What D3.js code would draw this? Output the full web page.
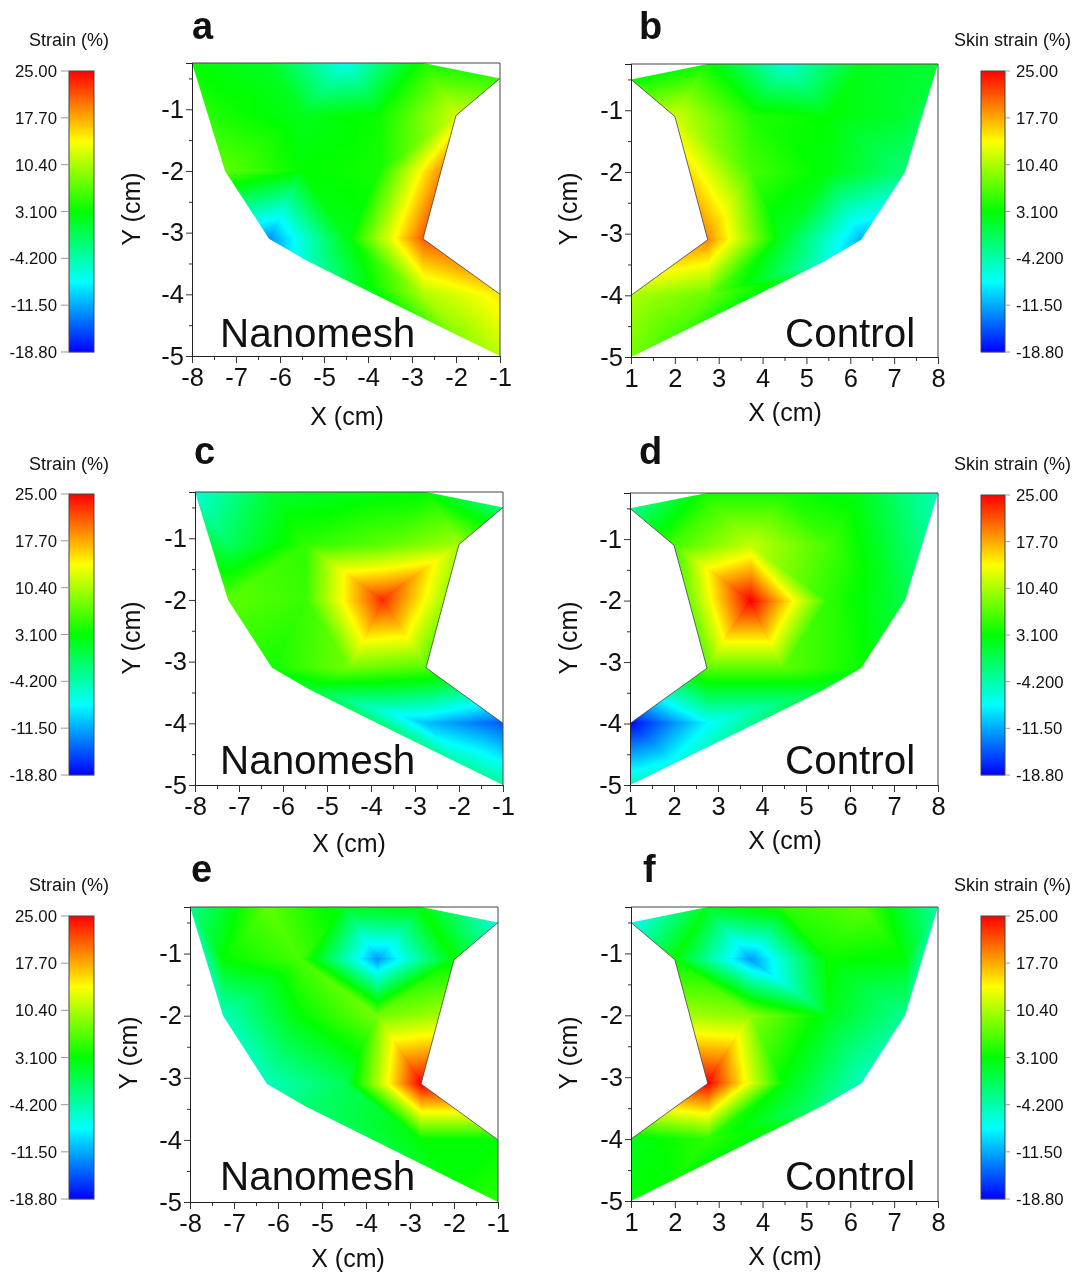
<!DOCTYPE html>
<html><head><meta charset="utf-8">
<script src="https://cdn.jsdelivr.net/npm/d3@7"></script>
<style>
html,body{margin:0;padding:0;background:#fff}
#wrap{position:relative;width:1078px;height:1272px;overflow:hidden}
canvas{position:absolute;left:0;top:0;filter:blur(0.6px)}
svg{position:absolute;left:0;top:0}
text{font-family:"Liberation Sans",Arial,sans-serif;fill:#111}
</style></head><body><div id="wrap"><canvas id="cv" width="1078" height="1272"></canvas><svg id="sv" width="1078" height="1272"></svg></div>
<script>
// measurement nodes, |X| in cm (the Nanomesh panels mirror X)
const nodeX = [2.75,4.5,6.25,8, 1, 2,3.75,5.5,7.25, 3.75,5.5,7.25, 2.75,4.5,6.25, 1,2.75,5.4, 1,2,4.5, 2.34];
const nodeY = [-.25,-.25,-.25,-.25, -.5, -1.1,-1.1,-1.1,-1.1, -2,-2,-2, -3.1,-3.1,-3.1, -4,-4,-3.45, -5,-4.65,-3.77, -2];
// strain (%) at each node
const valuesA = [4,-7,1.5,3,5,12,3.5,2,4,4,3,7,21,2,-12.5,15,10.5,-5.5,11,9,0,19];
const valuesB = [3.5,-6,2,1,3,12,4.5,3,1,6,2.5,-2,19,1,-11,10.5,7.5,-6,8,6,1.5,15.5];
const valuesC = [3,2,1,-6,-2,10,7,5,-1,23,5.5,7,6.6,8,4,-15,-10.5,1,-3.5,-4,-1,10];
const valuesD = [4,4,2,-5,-3,6,11.5,6,-1,25,5,0,7,7,3.5,-18.5,-8,1,-5,-7,-1,8];
const valuesE = [3,2,7,-3,-6.5,3,-12,6,3,8,3,-5,25,-0.6,-5,3,3,-2,5,3,-1,10];
const valuesF = [2,5,7,-4,-7.5,3,-12,3.5,2.5,9,2,-3,25,2.6,-5,2,5,-2.5,3,3.5,2,10];
const sharedTriangles = [[4,0,5],[0,6,5],[0,1,6],[1,7,6],[1,2,7],[2,8,7],[2,3,8],[3,11,8],
  [5,6,9],[7,8,11],[7,11,10],[5,9,21],[21,9,12],[9,13,12],[9,10,13],[10,14,13],[10,11,14],
  [12,13,16],[13,17,16],[13,14,17],[12,16,15],[15,16,19],[15,19,18],[16,17,20],[16,20,19]];
const nanomeshTriangles = sharedTriangles.concat([[6,7,9],[7,10,9]]);
const controlTriangles = sharedTriangles.concat([[6,10,9],[6,7,10]]);
const outline = [0,1,2,3,11,14,17,20,19,18,15,12,21,5,4];
const innerEdge = [4,5,21,12,15];
const barTicks = [25,17.7,10.4,3.1,-4.2,-11.5,-18.8];
const barLabels = ["25.00","17.70","10.40","3.100","-4.200","-11.50","-18.80"];
const colorStops = [-18.8,-7.85,3.1,14.05,25];
const colorRange = ["#0000ff","#00ffff","#00ff00","#ffff00","#ff0000"];
const xTicksNano = [-8,-7,-6,-5,-4,-3,-2,-1];
const xTicksCtrl = [1,2,3,4,5,6,7,8];
const yTicks = [-5,-4,-3,-2,-1];

const panels = [
 {id:"a",vals:valuesA,nano:true ,l:192,r:500,t:63 ,b:356,lx:192,ly:39 ,xl:[347,425],yl:[140,209],bar:[71,352],tl:46 ,txt:347},
 {id:"b",vals:valuesB,nano:false,l:631,r:938,t:64 ,b:357,lx:639,ly:39 ,xl:[785,421],yl:[577,209],bar:[71,352],tl:46 ,txt:347},
 {id:"c",vals:valuesC,nano:true ,l:195,r:503,t:492,b:785,lx:194,ly:464,xl:[349,852],yl:[140,638],bar:[494,775],tl:470,txt:774},
 {id:"d",vals:valuesD,nano:false,l:630,r:938,t:493,b:785,lx:639,ly:464,xl:[785,849],yl:[577,638],bar:[495,775],tl:470,txt:774},
 {id:"e",vals:valuesE,nano:true ,l:190,r:498,t:907,b:1202,lx:191,ly:882,xl:[348,1267],yl:[137,1053],bar:[916,1199],tl:891,txt:1190},
 {id:"f",vals:valuesF,nano:false,l:631,r:938,t:907,b:1201,lx:643,ly:882,xl:[785,1265],yl:[577,1053],bar:[916,1199],tl:891,txt:1190}
];

const color = d3.scaleLinear().domain(colorStops).range(colorRange).clamp(true);
const lutScale = d3.scaleLinear().domain([-18.8,25]).range([0,1023]).clamp(true);
const lut = d3.range(1024).map(i=>{const c=d3.rgb(color(lutScale.invert(i)));return [c.r,c.g,c.b];});

const ctx = document.getElementById("cv").getContext("2d");
const svg = d3.select("#sv");

panels.forEach(p=>{
  const x = d3.scaleLinear().domain(p.nano?[-8,-1]:[1,8]).range([p.l,p.r]);
  const y = d3.scaleLinear().domain([-5,-.25]).range([p.b,p.t]);
  const sign = p.nano?-1:1;
  const px = nodeX.map(v=>x(sign*v)), py = nodeY.map(v=>y(v));
  const w=p.r-p.l+2,h=p.b-p.t+2;
  const off=document.createElement("canvas");off.width=w;off.height=h;
  const oc=off.getContext("2d"),img=oc.createImageData(w,h);
  (p.nano?nanomeshTriangles:controlTriangles).forEach(([a,b,c])=>{
    const d=(py[b]-py[c])*(px[a]-px[c])+(px[c]-px[b])*(py[a]-py[c]);
    const x0=Math.floor(Math.min(px[a],px[b],px[c]))-1,x1=Math.ceil(Math.max(px[a],px[b],px[c]))+1;
    const y0=Math.floor(Math.min(py[a],py[b],py[c]))-1,y1=Math.ceil(Math.max(py[a],py[b],py[c]))+1;
    for(let j=y0;j<=y1;j++)for(let i=x0;i<=x1;i++){
      const cx=i+.5,cy=j+.5;
      const u=((py[b]-py[c])*(cx-px[c])+(px[c]-px[b])*(cy-py[c]))/d;
      const v=((py[c]-py[a])*(cx-px[c])+(px[a]-px[c])*(cy-py[c]))/d;
      const s=1-u-v;
      if(u<-.03||v<-.03||s<-.03)continue;
      const ix=i-p.l+1,iy=j-p.t+1;
      if(ix<0||iy<0||ix>=w||iy>=h)continue;
      const col=lut[Math.round(lutScale(u*p.vals[a]+v*p.vals[b]+s*p.vals[c]))];
      const k=(iy*w+ix)*4;
      img.data[k]=col[0];img.data[k+1]=col[1];img.data[k+2]=col[2];img.data[k+3]=255;
    }
  });
  oc.putImageData(img,0,0);
  const line=d3.line().x(i=>px[i]).y(i=>py[i]);
  ctx.save();ctx.beginPath();line.context(ctx)(outline);ctx.closePath();ctx.clip();
  ctx.drawImage(off,p.l-1,p.t-1);ctx.restore();
  line.context(null);

  const g=svg.append("g");
  g.append("path").attr("d",line(innerEdge)).attr("fill","none").attr("stroke","#444").attr("stroke-width",.8);
  // frame
  g.append("path").attr("d",`M${p.l},${p.t}H${p.r}V${p.b}`).attr("fill","none").attr("stroke","#444").attr("stroke-width",1);
  // axes
  const xT=p.nano?xTicksNano:xTicksCtrl;
  const xMin=xT.slice(1).map(v=>v-.5), yMin=yTicks.slice(1).map(v=>v-.5).concat([-.5]);
  const gx=g.append("g").attr("transform",`translate(0,${p.b})`);
  gx.call(d3.axisBottom(x).tickValues(xMin).tickSize(4).tickFormat(""));
  gx.append("g").call(d3.axisBottom(x).tickValues(xT).tickSize(7).tickPadding(5).tickFormat(d=>String(d)));
  const gy=g.append("g").attr("transform",`translate(${p.l},0)`);
  gy.call(d3.axisLeft(y).tickValues(yMin).tickSize(3).tickFormat(""));
  gy.append("g").call(d3.axisLeft(y).tickValues(yTicks).tickSize(6).tickPadding(2).tickFormat(d=>String(d)));
  g.selectAll(".domain").attr("stroke","#222");
  g.selectAll(".tick line").attr("stroke","#333");
  g.selectAll(".tick text").style("font-family",'"Liberation Sans",Arial,sans-serif').style("font-size","25.5px").attr("fill","#111");
  // labels
  g.append("text").attr("x",p.xl[0]).attr("y",p.xl[1]).attr("text-anchor","middle").style("font-size","25px").text("X (cm)");
  g.append("text").attr("transform",`translate(${p.yl[0]},${p.yl[1]}) rotate(-90)`).attr("text-anchor","middle").style("font-size","25px").text("Y (cm)");
  g.append("text").attr("x",p.lx).attr("y",p.ly).style("font-size","38px").style("font-weight","700").attr("fill","#000").text(p.id);
  g.append("text").attr("x",p.nano?220:785).attr("y",p.txt).style("font-size","40.4px").attr("fill","#000").text(p.nano?"Nanomesh":"Control");

  // colour bar
  const bx=p.nano?69:981,bw=p.nano?25:24;
  const by=d3.scaleLinear().domain([25,-18.8]).range(p.bar);
  const bar=g.append("g");
  bar.selectAll("rect.c").data(d3.range(p.bar[0],p.bar[1])).join("rect")
    .attr("class","c").attr("x",bx).attr("y",d=>d).attr("width",bw).attr("height",1.2)
    .attr("fill",d=>color(by.invert(d+.5)));
  bar.append("rect").attr("x",bx).attr("y",p.bar[0]).attr("width",bw).attr("height",p.bar[1]-p.bar[0])
    .attr("fill","none").attr("stroke","#444").attr("stroke-width",1);
  bar.selectAll("line").data(barTicks).join("line")
    .attr("x1",p.nano?61:bx+bw).attr("x2",p.nano?bx:bx+bw+5)
    .attr("y1",d=>by(d)).attr("y2",d=>by(d)).attr("stroke","#999").attr("stroke-width",1);
  bar.selectAll("text.t").data(barLabels).join("text").attr("class","t")
    .attr("x",p.nano?57:1016).attr("y",(d,i)=>by(barTicks[i])+6)
    .attr("text-anchor",p.nano?"end":"start").style("font-size","16.8px").text(d=>d);
  bar.append("text").attr("x",p.nano?69:954).attr("y",p.tl)
    .attr("text-anchor",p.nano?"middle":"start").style("font-size","18px").text(p.nano?"Strain (%)":"Skin strain (%)");
});
</script></body></html>
